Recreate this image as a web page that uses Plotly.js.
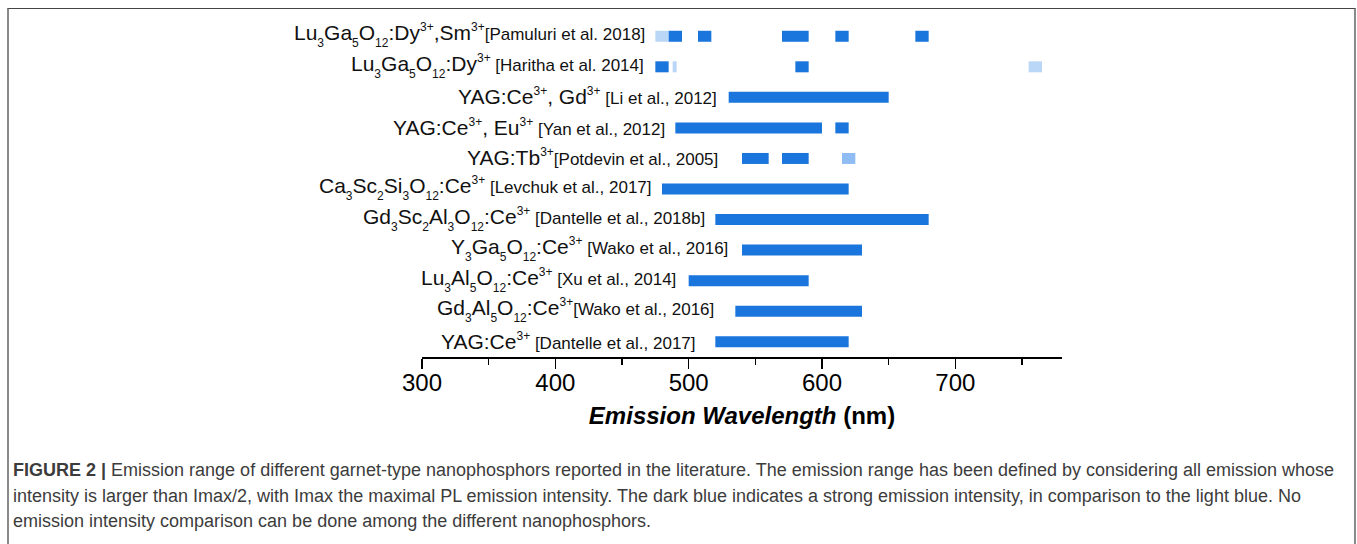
<!DOCTYPE html>
<html>
<head>
<meta charset="utf-8">
<script src="https://cdn.plot.ly/plotly-3.0.1.min.js"></script>
<style>
html,body{margin:0;padding:0;background:#fff;width:1357px;height:544px;overflow:hidden;}
#frame{position:absolute;left:7px;top:8px;width:1345px;height:620px;border-top:1px solid #444;border-left:2px solid #8a8a8a;border-right:2px solid #8a8a8a;}
#chart{position:absolute;left:0;top:0;width:1357px;height:544px;}
</style>
</head>
<body>
<div id="frame"></div>
<div id="chart"></div>
<script>
// ---- data ----
// "_n" marks a subscript, "^n+" a superscript charge
const materials = [
  "Lu_3Ga_5O_12:Dy^3+,Sm^3+",
  "Lu_3Ga_5O_12:Dy^3+",
  "YAG:Ce^3+, Gd^3+",
  "YAG:Ce^3+, Eu^3+",
  "YAG:Tb^3+",
  "Ca_3Sc_2Si_3O_12:Ce^3+",
  "Gd_3Sc_2Al_3O_12:Ce^3+",
  "Y_3Ga_5O_12:Ce^3+",
  "Lu_3Al_5O_12:Ce^3+",
  "Gd_3Al_5O_12:Ce^3+",
  "YAG:Ce^3+"
];
const references = [
  "[Pamuluri et al. 2018]",
  " [Haritha et al. 2014]",
  " [Li et al., 2012]",
  " [Yan et al., 2012]",
  "[Potdevin et al., 2005]",
  " [Levchuk et al., 2017]",
  " [Dantelle et al., 2018b]",
  " [Wako et al., 2016]",
  " [Xu et al., 2014]",
  "[Wako et al., 2016]",
  " [Dantelle et al., 2017]"
];
// strong emission segments (row index from top, start nm, end nm)
const strongRow   = [0, 0, 0, 0, 0, 1, 1, 2, 3, 3, 4, 4, 5, 6, 7, 8, 9, 10];
const strongStart = [485, 507, 570, 610, 670, 475, 580, 530, 490, 610, 540, 570, 480, 520, 540, 500, 535, 520];
const strongEnd   = [495, 517, 590, 620, 680, 485, 590, 650, 600, 620, 560, 590, 620, 680, 630, 590, 630, 620];
// weak emission segments
const weakRow   = [0, 1, 1];
const weakStart = [475, 488, 755];
const weakEnd   = [485, 491, 765];
// intermediate emission segment
const midRow   = [4];
const midStart = [615];
const midEnd   = [625];

const xTickVals = [300, 400, 500, 600, 700];
const xTickText = ["300", "400", "500", "600", "700"];
const xAxisTitle = "<b><i>Emission Wavelength</i> (nm)</b>";
const captionLines = [
  "<b>FIGURE 2 |</b> Emission range of different garnet-type nanophosphors reported in the literature. The emission range has been defined by considering all emission whose",
  "intensity is larger than Imax/2, with Imax the maximal PL emission intensity. The dark blue indicates a strong emission intensity, in comparison to the light blue. No",
  "emission intensity comparison can be done among the different nanophosphors."
];

// ---- styling ----
const FONT = "Liberation Sans, Arial, Helvetica, sans-serif";
const W = 1357, H = 544;
const M = {l: 422, r: 295, t: 21, b: 187};
const labelGap = [8, 9, 10, 8, 22, 8, 8, 12, 11, 19, 17];
const colStrong = "#1a75dc", colWeak = "#bad7f7", colMid = "#8fbcf2";
const barW = 0.36;
const SMALL = 12;

function formula(s) {
  return s
    .replace(/_(\d+)/g, '<sub><sub><span style="font-size:' + SMALL + 'px">$1</span></sub></sub>')
    .replace(/\^(\d\+)/g, '<sup><span style="font-size:' + SMALL + 'px">$1</span></sup>');
}

function barTrace(rows, st, en, color) {
  return {
    type: "bar", orientation: "h",
    y: rows, base: st, x: en.map((e, i) => e - st[i]),
    width: barW, marker: {color: color, line: {width: 0}},
    hoverinfo: "skip", showlegend: false
  };
}
const traces = [
  barTrace(weakRow, weakStart, weakEnd, colWeak),
  barTrace(midRow, midStart, midEnd, colMid),
  barTrace(strongRow, strongStart, strongEnd, colStrong)
];

// first start per row (for label placement)
const allRow = strongRow.concat(weakRow, midRow);
const allStart = strongStart.concat(weakStart, midStart);
const rowMin = materials.map((_, r) => Math.min(...allStart.filter((s, i) => allRow[i] === r)));

const annotations = materials.map((m, r) => ({
  x: rowMin[r], y: r, xref: "x", yref: "y",
  xanchor: "right", yanchor: "middle", xshift: -labelGap[r], yshift: 1,
  showarrow: false,
  text: formula(m) + '<span style="font-size:17px">' + references[r] + '</span>',
  font: {family: FONT, size: 21, color: "#111"}
}));

const plotW = W - M.l - M.r, plotH = H - M.t - M.b;
const px2x = px => (px - M.l) / plotW;
const py2y = py => 1 - (py - M.t) / plotH;
const captionY = [470, 495.5, 521];
captionLines.forEach((t, i) => annotations.push({
  xref: "paper", yref: "paper", x: px2x(11), y: py2y(captionY[i]),
  xanchor: "left", yanchor: "middle", showarrow: false, align: "left",
  text: t, font: {family: FONT, size: 18, color: "#3c3c3c"}
}));

const layout = {
  width: W, height: H, margin: M,
  paper_bgcolor: "rgba(0,0,0,0)", plot_bgcolor: "rgba(0,0,0,0)",
  barmode: "overlay", showlegend: false,
  font: {family: FONT, color: "#000"},
  xaxis: {
    range: [300, 780], showgrid: false, zeroline: false,
    showline: true, linecolor: "#000", linewidth: 1.5,
    ticks: "outside", ticklen: 10, tickwidth: 1.5, tickcolor: "#000",
    tickvals: xTickVals, ticktext: xTickText, ticklabelstandoff: -6,
    tickfont: {family: FONT, size: 24, color: "#000"},
    minor: {dtick: 50, tick0: 300, ticks: "outside", ticklen: 6, tickwidth: 1.5, tickcolor: "#000", showgrid: false},
    title: {text: xAxisTitle, font: {family: FONT, size: 24, color: "#000"}, standoff: 12}
  },
  yaxis: {
    range: [10.5, -0.5], showgrid: false, zeroline: false, showline: false,
    showticklabels: false, ticks: ""
  },
  annotations: annotations
};

Plotly.newPlot("chart", traces, layout, {displayModeBar: false, staticPlot: true});
</script>
</body>
</html>
